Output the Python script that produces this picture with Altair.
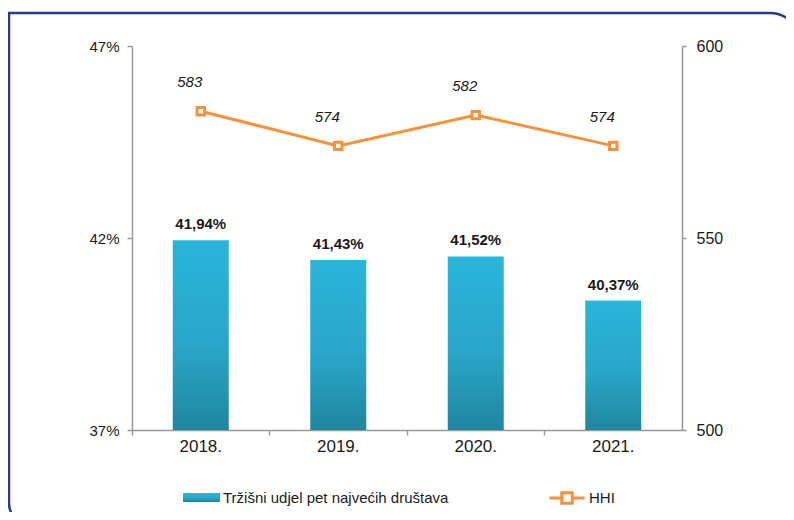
import altair as alt
import pandas as pd

years = ["2018.", "2019.", "2020.", "2021."]
share = [41.94, 41.43, 41.52, 40.37]
hhi = [583, 574, 582, 574]
share_name = "Tržišni udjel pet najvećih društava"
hhi_name = "HHI"
left_ticks = [37, 42, 47]
right_ticks = [500, 550, 600]
share_base = 37

df = pd.DataFrame({"year": years, "share": share, "hhi": hhi})
df["base"] = share_base
df["share_label"] = [f"{v:.2f}".replace(".", ",") + "%" for v in share]
df["hhi_label"] = [str(v) for v in hhi]
df["s1"] = share_name
df["s2"] = hhi_name

FONT = "Liberation Sans"
TXT = "#1a1a1a"
ORANGE = "#f7923a"
BLUE = "#2aa8cc"
AX = "#999999"

x = alt.X(
    "year:N", sort=years, title=None,
    scale=alt.Scale(paddingInner=0, paddingOuter=0),
    axis=alt.Axis(bandPosition=0, labelAngle=0, tickSize=5, labelPadding=3, labelFontSize=17,
                  domainColor=AX, tickColor=AX, domainWidth=1.5, tickWidth=1.5),
)

grad = alt.Gradient(
    gradient="linear",
    stops=[alt.GradientStop(color="#2ab5db", offset=0),
           alt.GradientStop(color="#29a6c9", offset=0.55),
           alt.GradientStop(color="#1f869f", offset=1)],
    x1=0, x2=0, y1=0, y2=1,
)

ysh = alt.Y("share:Q", title=None,
            scale=alt.Scale(domain=[37, 47], zero=False, nice=False),
            axis=alt.Axis(values=left_ticks, labelExpr="datum.value + '%'", tickSize=5,
                          labelPadding=8, labelFontSize=15, domainColor=AX, tickColor=AX,
                          domainWidth=1.5, tickWidth=1.5))

bars = alt.Chart(df).mark_bar(size=56, fill=grad, strokeWidth=0).encode(
    x=x, y=ysh, y2="base:Q",
    stroke=alt.Stroke("s1:N", scale=alt.Scale(domain=[share_name], range=[BLUE]),
                      legend=alt.Legend(title=None, orient="none", legendX=51, legendY=433,
                                        symbolType="M-1,-0.24H1V0.24H-1Z", symbolSize=1369,
                                        symbolFillColor=BLUE, symbolStrokeWidth=0,
                                        labelFontSize=15, labelFont=FONT, labelColor=TXT,
                                        labelOffset=3, labelLimit=0)),
)
bar_text = alt.Chart(df).mark_text(fontWeight="bold", fontSize=15, dy=-16, font=FONT, color=TXT).encode(
    x=x, y=ysh, text="share_label:N")

yh = alt.Y("hhi:Q", title=None,
           scale=alt.Scale(domain=[500, 600], zero=False, nice=False),
           axis=alt.Axis(orient="right", values=right_ticks, tickSize=4, labelPadding=10,
                         labelFontSize=16, domainColor=AX, tickColor=AX,
                         domainWidth=1.5, tickWidth=1.5))

line = alt.Chart(df).mark_line(strokeWidth=3).encode(
    x=x, y=yh,
    color=alt.Color("s2:N", scale=alt.Scale(domain=[hhi_name], range=[ORANGE]),
                    legend=alt.Legend(title=None, orient="none", legendX=416, legendY=433,
                                      symbolType="M-1,0H-0.3M0.3,0H1M-0.3,-0.3H0.3V0.3H-0.3Z",
                                      symbolSize=1225, symbolFillColor="white",
                                      symbolStrokeWidth=3, symbolStrokeColor=ORANGE,
                                      labelFontSize=15, labelFont=FONT, labelColor=TXT,
                                      labelOffset=3, labelLimit=0)),
)
points = alt.Chart(df).mark_point(shape="square", filled=True, fill="white", stroke=ORANGE,
                                  strokeWidth=3, size=55, opacity=1).encode(x=x, y=yh)
hhi_text = alt.Chart(df).mark_text(fontStyle="italic", fontSize=15, dx=-11, dy=-29,
                                   font=FONT, color=TXT).encode(x=x, y=yh, text="hhi_label:N")

border = alt.Chart(pd.DataFrame({"a": [0]})).mark_rect(
    fillOpacity=0, stroke="#24398f", strokeWidth=2.5,
    cornerRadiusTopRight=30, cornerRadiusBottomLeft=22,
).encode(x=alt.value(-123), x2=alt.value(668), y=alt.value(-33), y2=alt.value(479))

chart = alt.layer(
    border,
    alt.layer(bars, bar_text),
    alt.layer(line, points, hhi_text),
).resolve_scale(y="independent").properties(
    width=550, height=384,
    autosize=alt.AutoSizeParams(type="none"),
    padding={"left": 124, "top": 38, "right": 104, "bottom": 82},
).configure_view(stroke=None).configure_axis(
    labelFont=FONT, labelFontSize=14, labelColor=TXT, grid=False
)

chart.save("out.html", embed_options={"renderer": "svg", "actions": False})
